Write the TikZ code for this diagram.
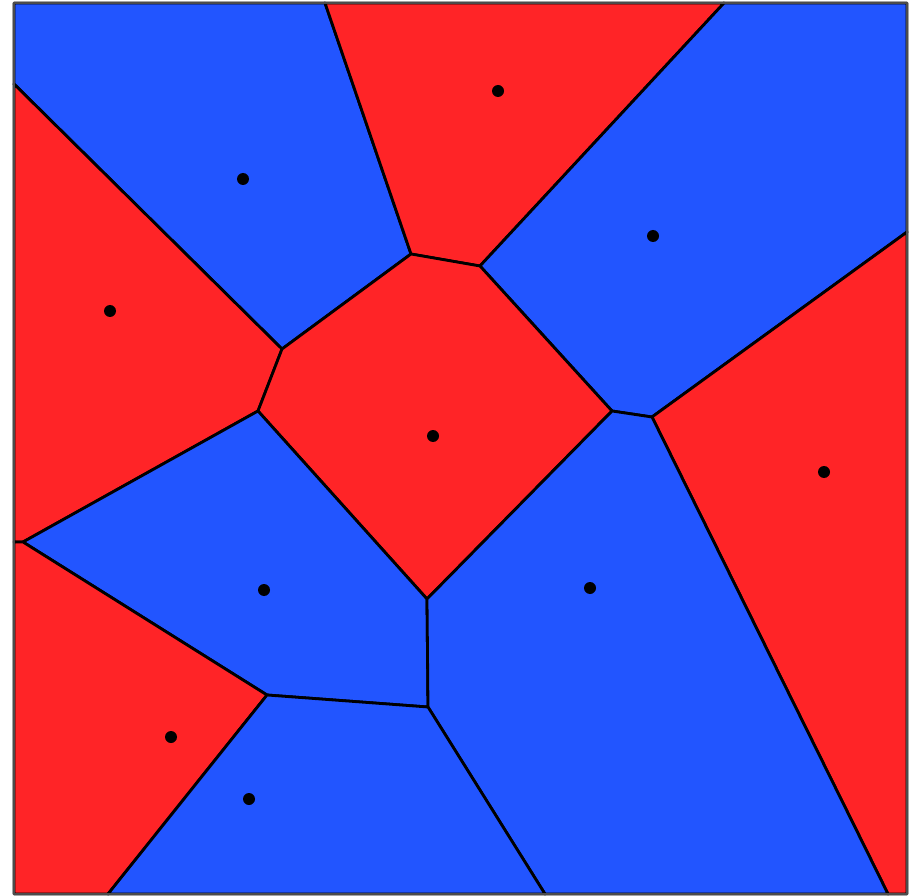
\documentclass[tikz,border=0pt]{standalone}
\definecolor{cellred}{RGB}{255,36,39}
\definecolor{cellblue}{RGB}{34,85,255}
\tikzset{
  redcell/.style={fill=cellred, draw=black, line width=2.8pt, line join=round},
  bluecell/.style={fill=cellblue, draw=black, line width=2.8pt, line join=round},
  site/.style={circle, fill=black, inner sep=0pt, minimum size=12pt},
  frame/.style={draw=black!70, line width=1.5pt}
}
\begin{document}
\begin{tikzpicture}[x=1pt,y=-1pt]
\useasboundingbox (0,0) rectangle (914,896);
% frame corners
\coordinate (TL) at (14,3);
\coordinate (TR) at (907,3);
\coordinate (BR) at (907,894);
\coordinate (BL) at (14,894);
% boundary points
\coordinate (t1) at (325,3);
\coordinate (t2) at (724,3);
\coordinate (l1) at (14,84);
\coordinate (l2) at (14,542);
\coordinate (r1) at (907,232);
\coordinate (b1) at (108,894);
\coordinate (b2) at (545,894);
\coordinate (b3) at (888,894);
% inner vertices
\coordinate (A) at (411,254);
\coordinate (B) at (480,266);
\coordinate (C) at (282,349);
\coordinate (D) at (258,411);
\coordinate (E) at (612,411);
\coordinate (F) at (652,417);
\coordinate (G) at (427,599);
\coordinate (H) at (267,695);
\coordinate (I) at (428,707);
\coordinate (J) at (23,542);
% cells
\path[bluecell] (TL) -- (t1) -- (A) -- (C) -- (l1) -- cycle;
\path[redcell] (t1) -- (t2) -- (B) -- (A) -- cycle;
\path[bluecell] (t2) -- (TR) -- (r1) -- (F) -- (E) -- (B) -- cycle;
\path[redcell] (l1) -- (C) -- (D) -- (J) -- (l2) -- cycle;
\path[redcell] (A) -- (B) -- (E) -- (G) -- (D) -- (C) -- cycle;
\path[redcell] (r1) -- (BR) -- (b3) -- (F) -- cycle;
\path[bluecell] (D) -- (G) -- (I) -- (H) -- (J) -- cycle;
\path[bluecell] (E) -- (F) -- (b3) -- (b2) -- (I) -- (G) -- cycle;
\path[redcell] (l2) -- (J) -- (H) -- (b1) -- (BL) -- cycle;
\path[bluecell] (H) -- (I) -- (b2) -- (b1) -- cycle;
\draw[frame] (TL) rectangle (BR);
% sites
\node[site] (s1) at (243,179) {};
\node[site] (s2) at (498,91) {};
\node[site] (s3) at (653,236) {};
\node[site] (s4) at (110,311) {};
\node[site] (s5) at (433,436) {};
\node[site] (s6) at (824,472) {};
\node[site] (s7) at (264,590) {};
\node[site] (s8) at (590,588) {};
\node[site] (s9) at (171,737) {};
\node[site] (s10) at (249,799) {};
\end{tikzpicture}
\end{document}
